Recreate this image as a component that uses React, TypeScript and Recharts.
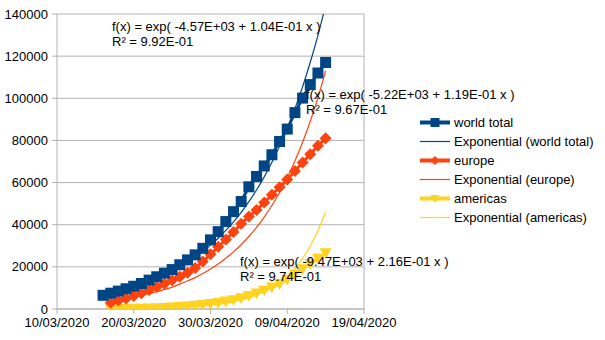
import { CartesianGrid, Line, LineChart, ReferenceLine, XAxis, YAxis } from "recharts";

const START = Date.UTC(2020, 2, 10);

const dates = [
  "16/03/2020", "17/03/2020", "18/03/2020", "19/03/2020", "20/03/2020", "21/03/2020",
  "22/03/2020", "23/03/2020", "24/03/2020", "25/03/2020", "26/03/2020", "27/03/2020",
  "28/03/2020", "29/03/2020", "30/03/2020", "31/03/2020", "01/04/2020", "02/04/2020",
  "03/04/2020", "04/04/2020", "05/04/2020", "06/04/2020", "07/04/2020", "08/04/2020",
  "09/04/2020", "10/04/2020", "11/04/2020", "12/04/2020", "13/04/2020", "14/04/2020",
];

const worldTotal = [
  6500, 7500, 8500, 9600, 10800, 12100, 13700, 15300, 17000, 18700, 21000, 23300, 25700, 28800,
  32800, 36700, 41500, 46200, 51000, 58000, 62900, 67900, 73200, 79500, 85400, 93200, 100100,
  106500, 112000, 117000,
];
const europe = [
  null, 3000, 4000, 5000, 6200, 7500, 9000, 10500, 12000, 13600, 15300, 17200, 19500, 22500, 26000,
  29500, 33000, 36500, 40500, 43900, 47000, 50500, 54200, 57800, 61500, 65500, 69500, 73500,
  77500, 81000,
];
const americas = [
  null, 100, 100, 150, 200, 250, 350, 450, 600, 800, 1000, 1300, 1600, 2000, 2500, 3000, 3600,
  4300, 5200, 6300, 7500, 8800, 10300, 12000, 14000, 16500, 19000, 21500, 24000, 26500,
];

// trend lines
const worldTrend = [
  7100, 7900, 8700, 9700, 10700, 11900, 13200, 14600, 16200, 18000, 20000, 22200, 24600, 27300,
  30300, 33600, 37300, 41400, 45900, 51000, 56500, 62700, 69600, 77200, 85700, 95100, 105500,
  117100, 129900, 144200,
];
const europeTrend = [
  null, 4000, 4500, 5100, 5800, 6500, 7300, 8200, 9300, 10400, 11800, 13300, 14900, 16800, 19000,
  21400, 24100, 27100, 30500, 34400, 38700, 43600, 49100, 55300, 62300, 70200, 79100, 89100,
  100300, 113000,
];
const americasTrend = [
  null, 110, 130, 170, 210, 260, 320, 400, 490, 610, 760, 940, 1170, 1450, 1800, 2200, 2800, 3400,
  4300, 5300, 6600, 8200, 10100, 12600, 15600, 19400, 24100, 29900, 37100, 46000,
];

const xTickLabels = ["10/03/2020", "20/03/2020", "30/03/2020", "09/04/2020", "19/04/2020"];
const xTicks = [0, 10, 20, 30, 40];
const yTicks = [0, 20000, 40000, 60000, 80000, 100000, 120000, 140000];

const fits = [
  { formula: "f(x) = exp( -4.57E+03 + 1.04E-01 x )", r2: "R² = 9.92E-01", left: 112, top: 19 },
  { formula: "f(x) = exp( -5.22E+03 + 1.19E-01 x )", r2: "R² = 9.67E-01", left: 306, top: 87 },
  { formula: "f(x) = exp( -9.47E+03 + 2.16E-01 x )", r2: "R² = 9.74E-01", left: 240, top: 254 },
];

const BLUE = "#004586";
const ORANGE = "#ff420e";
const YELLOW = "#ffd320";
const FONT = "'Liberation Sans', Arial, sans-serif";

const legendItems = [
  { name: "world total", color: BLUE, marker: "square" },
  { name: "Exponential (world total)", color: BLUE, marker: "" },
  { name: "europe", color: ORANGE, marker: "diamond" },
  { name: "Exponential (europe)", color: ORANGE, marker: "" },
  { name: "americas", color: YELLOW, marker: "triangle" },
  { name: "Exponential (americas)", color: YELLOW, marker: "" },
];

function dayOf(s: string) {
  const [d, m, y] = s.split("/").map(Number);
  return (Date.UTC(y, m - 1, d) - START) / 86400000;
}

const data = dates.map((date, i) => ({
  day: dayOf(date),
  world: worldTotal[i],
  europe: europe[i],
  americas: americas[i],
  worldTrend: worldTrend[i],
  europeTrend: europeTrend[i],
  americasTrend: americasTrend[i],
}));

function marker(kind: string, cx: number, cy: number, color: string, s: number, key?: any) {
  if (kind === "square") {
    return <rect key={key} x={cx - s} y={cy - s} width={2 * s} height={2 * s} fill={color} />;
  }
  if (kind === "diamond") {
    return (
      <polygon key={key} points={`${cx},${cy - s} ${cx + s},${cy} ${cx},${cy + s} ${cx - s},${cy}`} fill={color} />
    );
  }
  return (
    <polygon key={key} points={`${cx - s},${cy - s * 0.8} ${cx + s},${cy - s * 0.8} ${cx},${cy + s}`} fill={color} />
  );
}

function dotFor(kind: string, color: string, s: number) {
  return (props: any) => {
    if (props.cx == null || props.cy == null || props.value == null) return <g key={props.index} />;
    return marker(kind, props.cx, props.cy, color, s, props.index);
  };
}

export default function App() {
  return (
    <div style={{ position: "absolute", left: 0, top: 0, width: 605, height: 340, background: "#fff", fontFamily: FONT }}>
      <LineChart width={605} height={340} data={data} margin={{ top: 14, right: 241, left: 0, bottom: 0 }}>
        <CartesianGrid vertical={false} stroke="#b3b3b3" />
        <XAxis
          dataKey="day"
          type="number"
          domain={[0, 40]}
          ticks={xTicks}
          tickFormatter={(v) => xTickLabels[xTicks.indexOf(v)]}
          height={31}
          stroke="#b3b3b3"
          tickSize={5}
          tickMargin={4}
          tick={{ fill: "#000", fontSize: 13, fontFamily: FONT }}
        />
        <YAxis
          type="number"
          domain={[0, 140000]}
          ticks={yTicks}
          allowDataOverflow
          width={57}
          stroke="#b3b3b3"
          tickSize={5}
          tickMargin={4}
          tick={{ fill: "#000", fontSize: 13, fontFamily: FONT }}
        />
        <ReferenceLine x={40} stroke="#b3b3b3" />
        <Line dataKey="worldTrend" stroke={BLUE} strokeWidth={1.2} dot={false} type="monotone" isAnimationActive={false} />
        <Line dataKey="europeTrend" stroke={ORANGE} strokeWidth={1.2} dot={false} type="monotone" isAnimationActive={false} />
        <Line dataKey="americasTrend" stroke={YELLOW} strokeWidth={1.2} dot={false} type="monotone" isAnimationActive={false} />
        <Line dataKey="americas" stroke={YELLOW} strokeWidth={3} dot={dotFor("triangle", YELLOW, 6)} isAnimationActive={false} />
        <Line dataKey="europe" stroke={ORANGE} strokeWidth={3} dot={dotFor("diamond", ORANGE, 6)} isAnimationActive={false} />
        <Line dataKey="world" stroke={BLUE} strokeWidth={3} dot={dotFor("square", BLUE, 5.5)} isAnimationActive={false} />
      </LineChart>

      {fits.map((f) => (
        <div
          key={f.formula}
          style={{ position: "absolute", left: f.left, top: f.top, fontSize: 13, lineHeight: "15px", color: "#000", whiteSpace: "nowrap" }}
        >
          <div>{f.formula}</div>
          <div>{f.r2}</div>
        </div>
      ))}

      <div style={{ position: "absolute", left: 419, top: 113, fontSize: 13, color: "#000" }}>
        {legendItems.map((item) => (
          <div key={item.name} style={{ display: "flex", alignItems: "center", height: 19, whiteSpace: "nowrap" }}>
            <svg width={32} height={19} style={{ marginRight: 3 }}>
              <line x1={1} y1={9.5} x2={31} y2={9.5} stroke={item.color} strokeWidth={item.marker ? 4 : 1.2} />
              {item.marker ? marker(item.marker, 16, 9.5, item.color, 4.5) : null}
            </svg>
            <span>{item.name}</span>
          </div>
        ))}
      </div>
    </div>
  );
}
